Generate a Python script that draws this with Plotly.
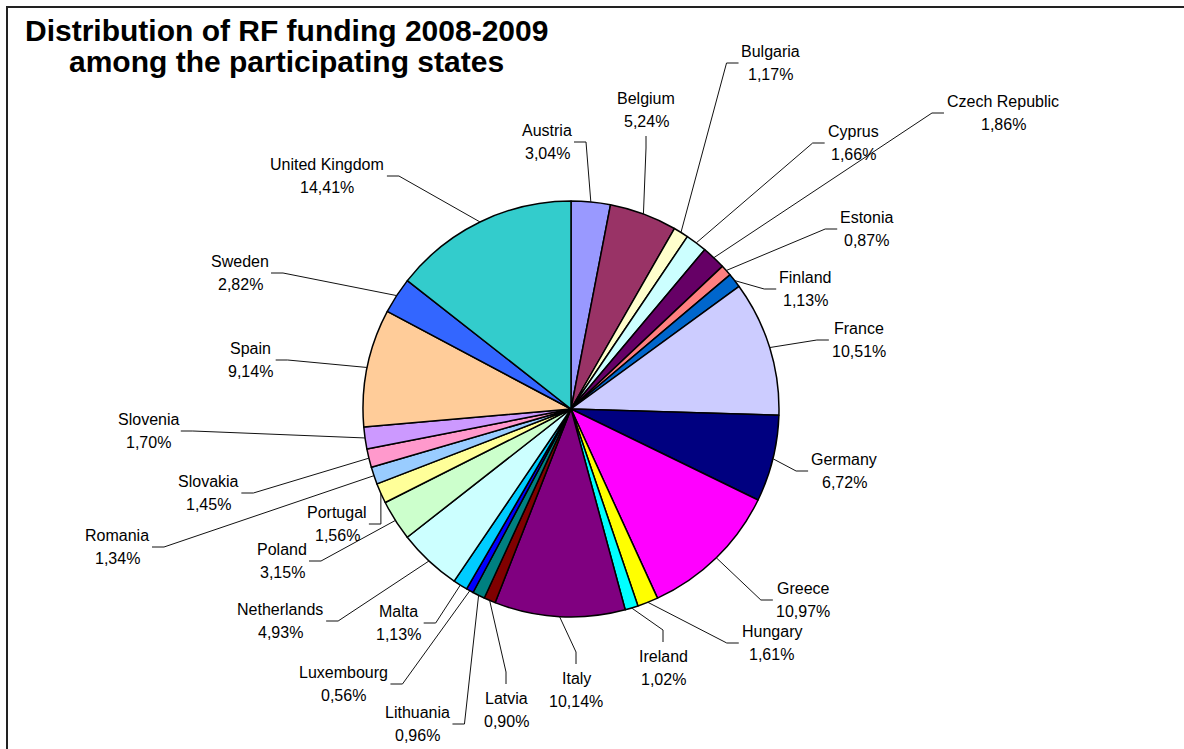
import math
import plotly.graph_objects as go

# ---- data ----
countries = ["Austria", "Belgium", "Bulgaria", "Cyprus", "Czech Republic", "Estonia",
             "Finland", "France", "Germany", "Greece", "Hungary", "Ireland", "Italy",
             "Latvia", "Lithuania", "Luxembourg", "Malta", "Netherlands", "Poland",
             "Portugal", "Romania", "Slovakia", "Slovenia", "Spain", "Sweden",
             "United Kingdom"]
shares = [3.04, 5.24, 1.17, 1.66, 1.86, 0.87, 1.13, 10.51, 6.72, 10.97, 1.61, 1.02,
          10.14, 0.90, 0.96, 0.56, 1.13, 4.93, 3.15, 1.56, 1.34, 1.45, 1.70, 9.14,
          2.82, 14.41]
title_lines = ["Distribution of RF funding 2008-2009", "among the participating states"]

# ---- style ----
colors = ["#9999FF", "#993366", "#FFFFCC", "#CCFFFF", "#660066", "#FF8080",
          "#0066CC", "#CCCCFF", "#000080", "#FF00FF", "#FFFF00", "#00FFFF",
          "#800080", "#800000", "#008080", "#0000FF", "#00CCFF", "#CCFFFF",
          "#CCFFCC", "#FFFF99", "#99CCFF", "#FF99CC", "#CC99FF", "#FFCC99",
          "#3366FF", "#33CCCC"]
# label text centres (pixels, layout)
label_px = [(547, 142), (646, 110), (770, 63), (853, 143), (1003, 113), (866, 229),
            (805, 289), (859, 340), (844, 471), (803, 600), (772, 643), (663, 668),
            (576, 690), (506, 710), (417, 724), (343, 684), (398, 623), (280, 621),
            (282, 561), (337, 524), (117, 547), (209, 493), (148, 431), (250, 360),
            (240, 273), (327, 176)]

W, H = 1184, 749
CX, CY, R = 571, 409, 208
FS = 16
LINE = 23
FONT = "Arial, Liberation Sans, sans-serif"


def px(x):
    return x / W


def py(y):
    return 1 - y / H


CW = {"i": .222, "l": .222, "j": .222, "t": .278, "f": .278, "r": .333, " ": .278,
      ",": .278, "%": .889, "m": .833, "M": .833, "w": .722, "C": .722, "U": .722,
      "K": .667, "R": .722, "G": .778, "H": .722, "N": .722, "k": .5, "v": .5,
      "x": .5, "y": .5, "z": .5, "c": .5, "s": .5}


def text_w(s):
    return sum(CW.get(ch, .556) for ch in s) * FS


fig = go.Figure(go.Pie(
    labels=countries, values=shares, sort=False, direction="clockwise",
    rotation=0, marker=dict(colors=colors, line=dict(color="black", width=1.5)),
    textinfo="none", hoverinfo="label+percent", showlegend=False,
    domain=dict(x=[px(CX - R), px(CX + R)], y=[py(CY + R), py(CY - R)])))

total = sum(shares)
cum = 0.0
annotations = []
shapes = []
for name, v, (lx, ly) in zip(countries, shares, label_px):
    theta = 2 * math.pi * (cum + v / 2) / total
    cum += v
    sx = CX + R * math.sin(theta)
    sy = CY - R * math.cos(theta)
    pct = f"{v:.2f}".replace(".", ",") + "%"
    for txt, yy in ((name, ly - LINE / 2), (pct, ly + LINE / 2)):
        annotations.append(dict(x=px(lx), y=py(yy), xref="paper", yref="paper",
                                text=txt, showarrow=False,
                                font=dict(family=FONT, size=FS, color="black"),
                                xanchor="center", yanchor="middle"))
    hw = max(text_w(name), text_w(pct)) / 2
    hh = 23
    gap = 3
    if lx - hw - 6 <= sx <= lx + hw + 6:
        if sy < ly:
            a = (lx, ly - hh - gap)
            e = (lx, a[1] - 12)
        else:
            a = (lx, ly + hh + gap)
            e = (lx, a[1] + 12)
    else:
        if sx > lx:
            a = (lx + hw + gap, ly)
            e = (a[0] + 12, ly)
        else:
            a = (lx - hw - gap, ly)
            e = (a[0] - 12, ly)
    path = (f"M {px(a[0])} {py(a[1])} L {px(e[0])} {py(e[1])} "
            f"L {px(sx)} {py(sy)}")
    shapes.append(dict(type="path", xref="paper", yref="paper", path=path,
                       line=dict(color="#111111", width=1)))

# chart frame
shapes.append(dict(type="rect", xref="paper", yref="paper",
                   x0=px(7), x1=px(1195), y0=py(760), y1=py(7),
                   line=dict(color="#222222", width=2), layer="below"))

for txt, yy in zip(title_lines, (30, 62)):
    annotations.append(dict(x=px(286), y=py(yy), xref="paper", yref="paper",
                            text=f"<b>{txt}</b>", showarrow=False,
                            xanchor="center", yanchor="middle",
                            font=dict(family=FONT, size=30, color="black")))

fig.update_layout(width=W, height=H, autosize=False,
                  margin=dict(l=0, r=0, t=0, b=0),
                  paper_bgcolor="white", plot_bgcolor="white",
                  annotations=annotations, shapes=shapes)

fig.write_html("out.html", config={"displayModeBar": False},
               post_script="document.body.style.margin='0';document.body.style.overflow='hidden';")
